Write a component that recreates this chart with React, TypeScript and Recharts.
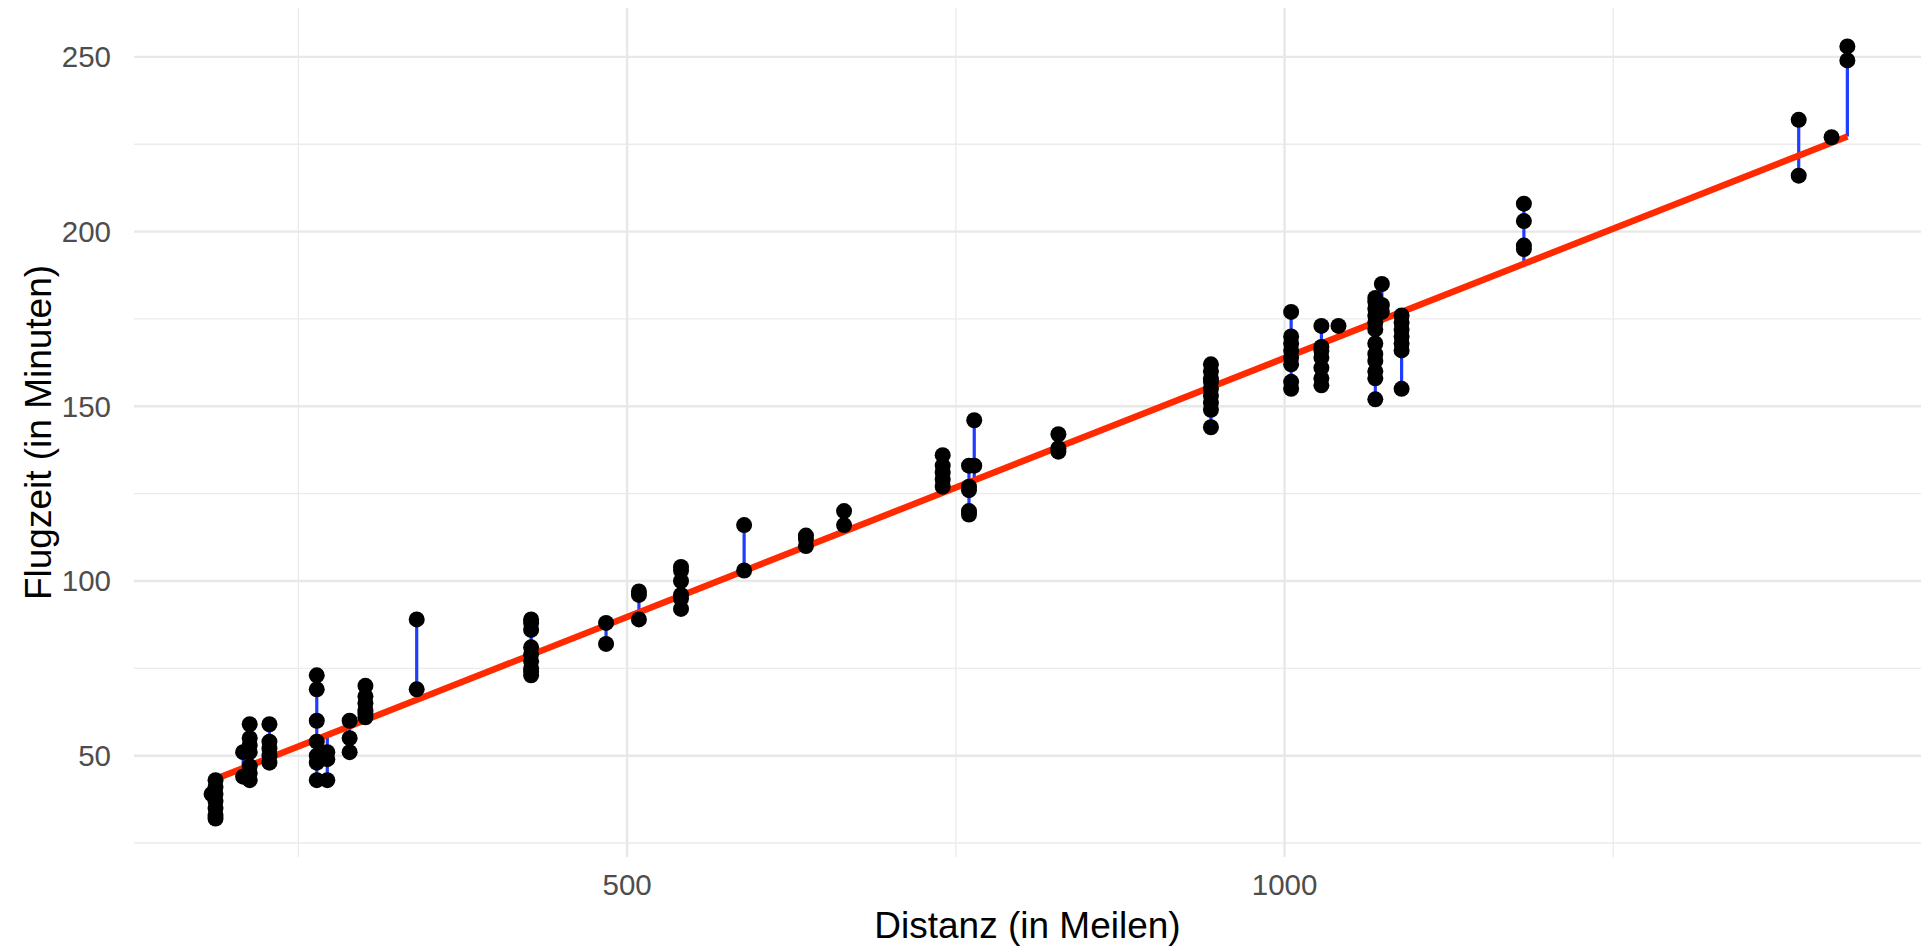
import React from 'react';
import { ComposedChart, Line, Scatter, XAxis, YAxis, CartesianGrid } from 'recharts';

// Distanz (Meilen) je Gruppe und die dazugehörigen Flugzeiten (Minuten)
const distanceGroups = [
  184, 187, 208, 213, 228, 264, 272, 289, 301, 340, 427, 484, 509, 541, 589, 636,
  665, 740, 760, 764, 828, 944, 1005, 1028, 1041, 1069, 1074, 1089, 1182, 1391, 1416, 1428,
];
const airTimeGroups = [
  [39],
  [43, 41, 39, 37, 35, 33, 32],
  [51, 44],
  [59, 55, 53, 51, 47, 45, 43],
  [59, 54, 52, 50, 48],
  [73, 69, 60, 54, 50, 48, 43],
  [51, 49, 43],
  [60, 55, 51],
  [70, 67, 65, 63, 62, 61],
  [89, 69],
  [89, 88, 86, 81, 79, 77, 75, 74, 73],
  [88, 82],
  [97, 96, 89],
  [104, 103, 100, 96, 95, 92],
  [116, 103],
  [113, 112, 110],
  [120, 116],
  [136, 133, 131, 129, 127],
  [133, 127, 126, 120, 119],
  [146, 133],
  [142, 138, 137],
  [162, 160, 158, 157, 155, 153, 151, 149, 144],
  [177, 170, 168, 166, 164, 162, 157, 155],
  [173, 167, 166, 164, 161, 158, 156],
  [173],
  [181, 180, 178, 176, 174, 172, 168, 165, 163, 160, 158, 152],
  [185, 179, 177],
  [176, 174, 172, 170, 168, 166, 155],
  [208, 203, 196, 195],
  [232, 216],
  [227],
  [253, 249],
];

// Regressionsgerade
const fitIntercept = 15.6;
const fitSlope = 0.1482;

const xMajorTicks = [500, 1000];
const xMinorTicks = [250, 750, 1250];
const yMajorTicks = [50, 100, 150, 200, 250];
const yMinorTicks = [25, 75, 125, 175, 225];
const xDomain = [125, 1484];
const yDomain = [21, 264];

const fitted = (d: number) => fitIntercept + fitSlope * d;

const points = distanceGroups.flatMap((d, i) => airTimeGroups[i].map((t) => ({ distance: d, airTime: t })));

// Residuen: Punkt -> Gerade, getrennt durch null-Einträge
const residuals = points.flatMap((p) => [
  { distance: p.distance, airTime: p.airTime },
  { distance: p.distance, airTime: fitted(p.distance) },
  { distance: p.distance, airTime: null },
]);

const minD = Math.min(...distanceGroups);
const maxD = Math.max(...distanceGroups);
const fitLine = [
  { distance: minD, airTime: fitted(minD) },
  { distance: maxD, airTime: fitted(maxD) },
];

const FONT = '"Liberation Sans", Arial, Helvetica, sans-serif';

// Gitterlinien auf die Achsenwerte legen (lineare Skala wie die Achsen)
const vGrid = (ticks: number[]) => ({ offset }: any) =>
  ticks.map((t) => offset.left + ((t - xDomain[0]) / (xDomain[1] - xDomain[0])) * offset.width);
const hGrid = (ticks: number[]) => ({ offset }: any) =>
  ticks.map((t) => offset.top + ((yDomain[1] - t) / (yDomain[1] - yDomain[0])) * offset.height);

export default function App() {
  return (
    <div style={{ width: 1921, height: 946, background: '#fff' }}>
      <style>{`body{margin:0}`}</style>
      <ComposedChart width={1921} height={946} margin={{ top: 8, right: 0, left: 0, bottom: 0 }}>
        <CartesianGrid
          stroke="#ebebeb"
          strokeWidth={1.3}
          verticalCoordinatesGenerator={vGrid(xMinorTicks)}
          horizontalCoordinatesGenerator={hGrid(yMinorTicks)}
        />
        <CartesianGrid
          stroke="#e8e8e8"
          strokeWidth={2.4}
          verticalCoordinatesGenerator={vGrid(xMajorTicks)}
          horizontalCoordinatesGenerator={hGrid(yMajorTicks)}
        />
        <XAxis
          type="number"
          dataKey="distance"
          domain={xDomain}
          ticks={xMajorTicks}
          axisLine={false}
          tickLine={false}
          tickSize={0}
          tickMargin={17}
          height={89}
          tick={{ fontSize: 29.5, fill: '#4d4d4d', fontFamily: FONT }}
          label={({ viewBox }: any) => (
            <text
              x={viewBox.x + viewBox.width / 2}
              y={925}
              dy="0.35em"
              textAnchor="middle"
              fontSize={37}
              fontFamily={FONT}
              fill="#000"
            >
              Distanz (in Meilen)
            </text>
          )}
        />
        <YAxis
          type="number"
          dataKey="airTime"
          domain={yDomain}
          ticks={yMajorTicks}
          axisLine={false}
          tickLine={false}
          tickSize={0}
          tickMargin={23}
          width={134}
          tick={{ fontSize: 29.5, fill: '#4d4d4d', fontFamily: FONT }}
          label={({ viewBox }: any) => {
            const cy = viewBox.y + viewBox.height / 2;
            return (
              <text
                x={38}
                y={cy}
                dy="0.35em"
                textAnchor="middle"
                transform={`rotate(-90, 38, ${cy})`}
                fontSize={37}
                fontFamily={FONT}
                fill="#000"
              >
                Flugzeit (in Minuten)
              </text>
            );
          }}
        />
        <Line
          data={residuals}
          dataKey="airTime"
          type="linear"
          stroke="#1f3dff"
          strokeWidth={3.2}
          dot={false}
          activeDot={false}
          connectNulls={false}
          isAnimationActive={false}
        />
        <Line
          data={fitLine}
          dataKey="airTime"
          type="linear"
          stroke="#ff2a00"
          strokeWidth={6.5}
          dot={false}
          activeDot={false}
          isAnimationActive={false}
        />
        <Scatter
          data={points}
          dataKey="airTime"
          isAnimationActive={false}
          shape={(p: any) => <circle cx={p.cx} cy={p.cy} r={8} fill="#000" />}
        />
      </ComposedChart>
    </div>
  );
}
